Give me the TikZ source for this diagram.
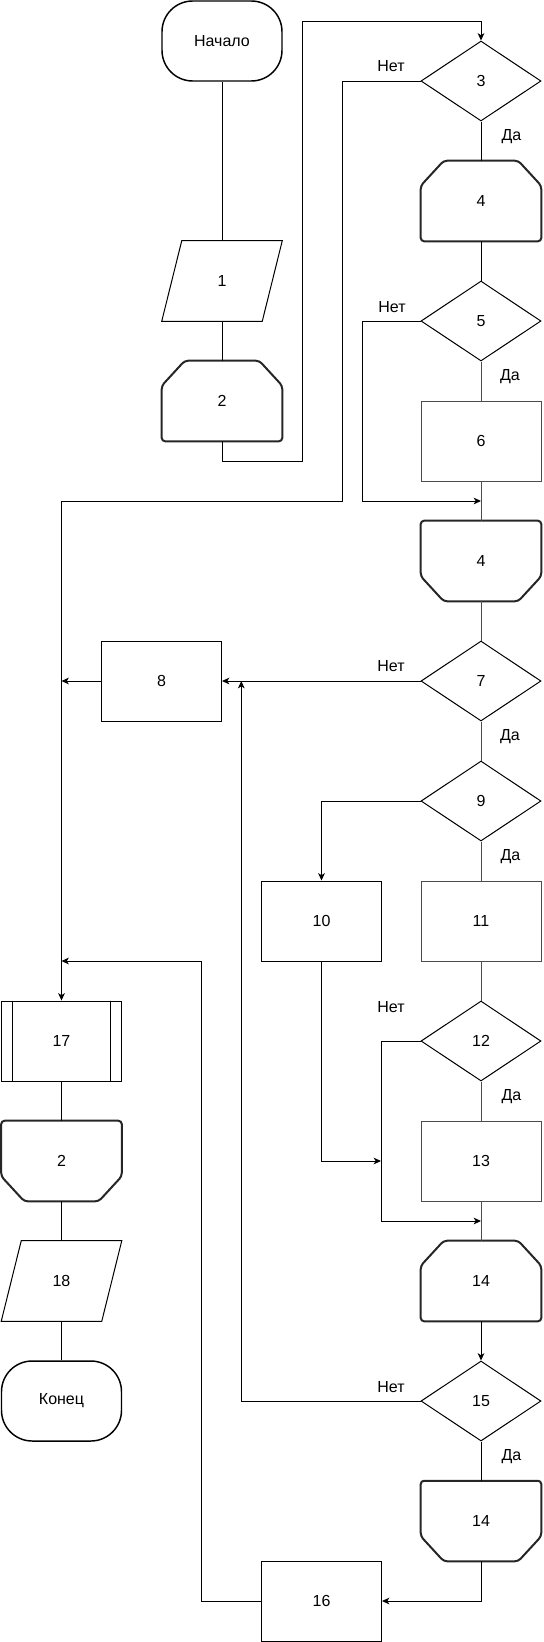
\documentclass[tikz,border=0pt]{standalone}
\usepackage{fontspec}
\setmainfont{Liberation Sans}
\usetikzlibrary{shapes.geometric,arrows.meta,calc}
\newcommand{\LoopS}[1]{\draw[thickline] ($(#1.north west)+(23,0)$) -- ($(#1.north east)+(-23,0)$) -- ($(#1.north east)+(0,25)$) -- (#1.south east) -- (#1.south west) -- ($(#1.north west)+(0,25)$) -- cycle;}
\newcommand{\LoopE}[1]{\draw[thickline] ($(#1.south west)+(23,0)$) -- ($(#1.south east)+(-23,0)$) -- ($(#1.south east)+(0,-25)$) -- (#1.north east) -- (#1.north west) -- ($(#1.south west)+(0,-25)$) -- cycle;}
\newcommand{\IOshape}[1]{\draw[line] ($(#1.north west)+(20,0)$) -- (#1.north east) -- ($(#1.south east)+(-20,0)$) -- (#1.south west) -- cycle;}
\newcommand{\PredefLines}[1]{\draw[line] ($(#1.north west)+(11.5,0)$) -- ($(#1.south west)+(11.5,0)$); \draw[line] ($(#1.north east)+(-11.5,0)$) -- ($(#1.south east)+(-11.5,0)$);}
\begin{document}
\begin{tikzpicture}[x=0.75pt,y=-0.75pt,
  every node/.style={font=\fontsize{12pt}{14pt}\selectfont},
  line/.style={draw=black,line width=0.75pt},
  gline/.style={draw=black!70,line width=0.75pt},
  thickline/.style={draw=black!85,line width=1.5pt,rounded corners=2.5pt},
  arr/.style={line,-{Stealth[length=5.5pt,width=5pt,inset=1.5pt]}},
  box/.style={rectangle,draw=black,line width=0.75pt,minimum width=90pt,minimum height=60pt,inner sep=0pt},
  gbox/.style={box,draw=black!70},
  term/.style={rectangle,rounded corners=23pt,draw=black,line width=1.1pt,minimum width=90pt,minimum height=60pt,inner sep=0pt},
  dec/.style={diamond,draw=black,line width=0.75pt,minimum width=90pt,minimum height=60pt,inner sep=0pt},
  blank/.style={rectangle,minimum width=90pt,minimum height=60pt,inner sep=0pt},
  lbl/.style={inner sep=0pt}]
\useasboundingbox (0,0) rectangle (543,1642);
% nodes
\node[term] (start) at (222,41) {Начало};
\node[blank] (io1) at (222,281) {1};
\node[blank] (ls2) at (222,401) {2};
\node[dec] (d3) at (481,81) {3};
\node[blank] (ls4) at (481,201) {4};
\node[dec] (d5) at (481,321) {5};
\node[gbox] (b6) at (481,441) {6};
\node[blank] (le4) at (481,561) {4};
\node[dec] (d7) at (481,681) {7};
\node[box] (b8) at (161.5,681) {8};
\node[dec] (d9) at (481,801) {9};
\node[box] (b10) at (321.5,921) {10};
\node[gbox] (b11) at (481,921) {11};
\node[dec] (d12) at (481,1041) {12};
\node[box] (p17) at (61.5,1041) {17};
\node[gbox] (b13) at (481,1161) {13};
\node[blank] (le2) at (61.5,1161) {2};
\node[blank] (ls14) at (481,1281) {14};
\node[blank] (io18) at (61.5,1281) {18};
\node[dec] (d15) at (481,1401) {15};
\node[term] (end) at (61.5,1401) {Конец};
\node[blank] (le14) at (481,1521) {14};
\node[box] (b16) at (321.5,1601) {16};
% shapes
\IOshape{io1}
\IOshape{io18}
\LoopS{ls2}
\LoopS{ls4}
\LoopS{ls14}
\LoopE{le4}
\LoopE{le2}
\LoopE{le14}
\PredefLines{p17}
% labels
\node[lbl] (n3) at (391,66) {Нет};
\node[lbl] (y3) at (511.5,137) {Да};
\node[lbl] (n5) at (392,307) {Нет};
\node[lbl] (y5) at (510,377) {Да};
\node[lbl] (n7) at (391,666) {Нет};
\node[lbl] (y7) at (510,737) {Да};
\node[lbl] (y9) at (510.5,857) {Да};
\node[lbl] (n12) at (391,1007) {Нет};
\node[lbl] (y12) at (511.5,1097) {Да};
\node[lbl] (n15) at (391,1387) {Нет};
\node[lbl] (y15) at (511.5,1457) {Да};
% helper coordinates
\coordinate (p1) at (302,461);
\coordinate (p2) at (302,21);
\coordinate (q1) at (342,501);
\coordinate (q2) at (362,501);
\coordinate (m1) at (481,501);
\coordinate (m2) at (61.5,681);
\coordinate (q3) at (381,1161);
\coordinate (q4) at (381,1221);
\coordinate (m3) at (481,1221);
\coordinate (q5) at (241.3,681);
\coordinate (q6) at (201.2,961);
\coordinate (m4) at (61.5,961);
% connectors
\draw[line] (start.south) -- (io1.north);
\draw[line] (io1.south) -- (ls2.north);
\draw[arr] (ls2.south) |- (p1) -- (p2) -| (d3.north);
\draw[arr] (d3.west) -| (q1) -| (p17.north);
\draw[line] (d3.south) -- (ls4.north);
\draw[line] (ls4.south) -- (d5.north);
\draw[gline] (d5.south) -- (b6.north);
\draw[gline] (b6.south) -- (le4.north);
\draw[arr] (d5.west) -| (q2) -- (m1);
\draw[gline] (le4.south) -- (d7.north);
\draw[arr] (d7.west) -- (b8.east);
\draw[arr] (b8.west) -- (m2);
\draw[gline] (d7.south) -- (d9.north);
\draw[arr] (d9.west) -| (b10.north);
\draw[gline] (d9.south) -- (b11.north);
\draw[gline] (b11.south) -- (d12.north);
\draw[gline] (d12.south) -- (b13.north);
\draw[gline] (b13.south) -- (ls14.north);
\draw[arr] (b10.south) |- (q3);
\draw[arr] (d12.west) -| (q4) -- (m3);
\draw[arr] (ls14.south) -- (d15.north);
\draw[arr] (d15.west) -| (q5);
\draw[line] (d15.south) -- (le14.north);
\draw[arr] (le14.south) |- (b16.east);
\draw[arr] (b16.west) -| (q6) -- (m4);
\draw[line] (p17.south) -- (le2.north);
\draw[line] (le2.south) -- (io18.north);
\draw[line] (io18.south) -- (end.north);
\end{tikzpicture}
\end{document}
